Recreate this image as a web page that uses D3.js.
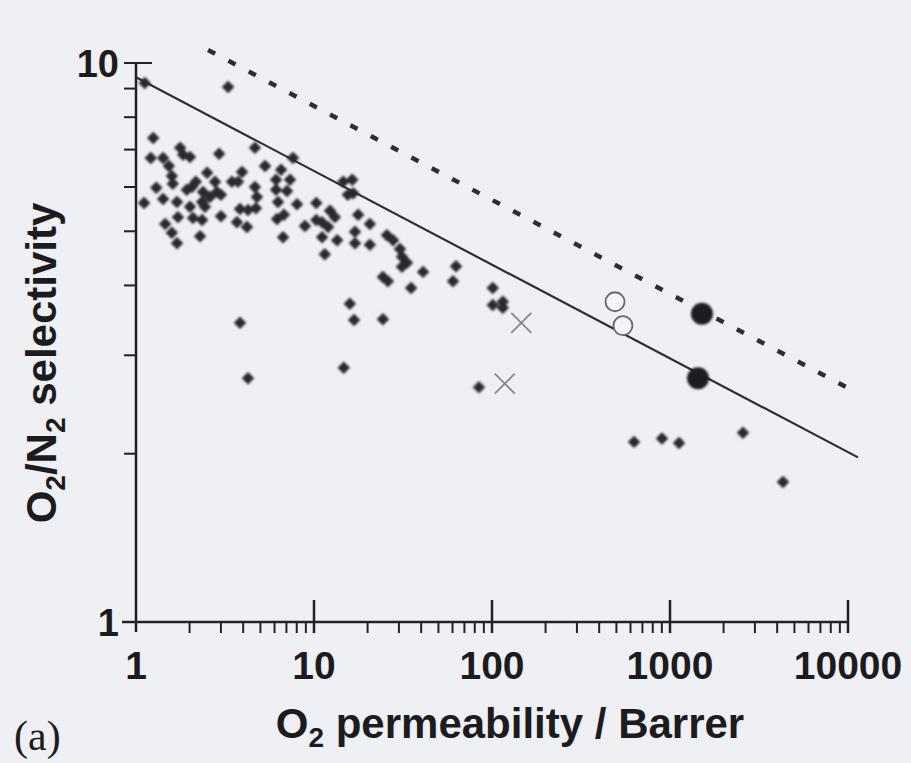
<!DOCTYPE html>
<html>
<head>
<meta charset="UTF-8" />
<title>O2/N2 selectivity vs permeability</title>
<script src="https://d3js.org/d3.v7.min.js"></script>
<style>
  body { margin: 0; background: #eff0f4; }
  svg { display: block; }
  .tick-label { font-family: "Liberation Sans", Arial, sans-serif; font-weight: bold; fill: #1c1c1e; }
  .title { font-family: "Liberation Sans", Arial, sans-serif; font-weight: bold; fill: #1c1c1e; }
</style>
</head>
<body>
<svg id="chart" width="911" height="763"></svg>
<script>
// polymer data (diamonds): O2 permeability (Barrer) and O2/N2 selectivity
const polyP = [1.12, 3.29, 1.25, 1.77, 1.84, 2.01, 2.93, 1.21, 1.42, 1.53, 1.59, 1.61, 2.51, 1.30, 1.93, 2.06, 2.17, 2.38, 2.60, 2.78,
  2.85, 3.00, 1.11, 1.42, 1.70, 2.01, 2.35, 2.44, 1.72, 2.09, 2.35, 3.00, 1.46, 1.59, 2.29, 1.70, 3.46, 3.74, 3.94, 4.66,
  5.31, 6.53, 7.62, 4.66, 4.78, 6.12, 7.33, 6.12, 7.05, 6.28, 8.03, 10.3, 3.84, 4.26, 4.72, 3.69, 4.20, 6.20, 6.78, 8.90,
  10.3, 6.70, 11.1, 14.6, 16.4, 15.5, 16.6, 12.3, 13.1, 11.1, 12.0, 17.7, 20.6, 17.0, 13.5, 17.0, 20.6, 25.7, 27.8, 30.4,
  31.2, 31.2, 33.3, 11.5, 24.4, 26.0, 41.0, 35.1, 62.8, 60.4, 101, 101, 115, 115, 3.84, 4.26, 15.9, 16.8, 24.4, 14.7,
  84.5, 628, 902, 1124, 2571, 4313];
const polySel = [9.21, 9.06, 7.34, 7.05, 6.85, 6.79, 6.88, 6.76, 6.76, 6.54, 6.28, 6.08, 6.36, 5.98, 5.93, 6.00, 6.13, 5.88, 5.76, 6.13,
  5.88, 5.81, 5.62, 5.71, 5.64, 5.53, 5.64, 5.53, 5.30, 5.28, 5.24, 5.32, 5.15, 4.97, 4.90, 4.76, 6.13, 6.13, 6.38, 7.05,
  6.54, 6.44, 6.76, 6.00, 5.76, 6.18, 6.18, 5.93, 5.90, 5.64, 5.59, 5.62, 5.48, 5.46, 5.50, 5.19, 5.09, 5.26, 5.35, 5.11,
  5.24, 4.88, 4.88, 6.13, 6.18, 5.81, 5.85, 5.44, 5.30, 5.19, 5.09, 5.35, 5.15, 4.99, 4.82, 4.76, 4.73, 4.92, 4.82, 4.65,
  4.50, 4.32, 4.39, 4.55, 4.14, 4.07, 4.23, 3.96, 4.33, 4.07, 3.96, 3.69, 3.74, 3.65, 3.43, 2.73, 3.71, 3.47, 3.48, 2.85,
  2.63, 2.10, 2.13, 2.09, 2.18, 1.78];

// other materials
const crossP = [146, 118];
const crossSel = [3.43, 2.67];
const openP = [491, 544];
const openSel = [3.74, 3.39];
const filledP = [1512, 1437];
const filledSel = [3.56, 2.73];

// upper bound lines (end points)
const bound1991P = [1, 11380];
const bound1991Sel = [9.43, 1.97];
const bound2008P = [2.54, 10520];
const bound2008Sel = [10.55, 2.60];

const xTickLabels = ["1", "10", "100", "1000", "10000"];
const yTickLabels = ["1", "10"];

const width = 911, height = 763;
const svg = d3.select("#chart");

svg.append("rect").attr("width", width).attr("height", height).attr("fill", "#eff0f4");

const defs = svg.append("defs");
defs.append("filter").attr("id", "soft")
  .append("feGaussianBlur").attr("stdDeviation", 0.8);

const x = d3.scaleLog().domain([1, 10000]).range([136, 848]);
const y = d3.scaleLog().domain([1, 10]).range([622, 63]);

const ink = "#222226";

// axes lines
svg.append("line").attr("x1", 122).attr("x2", x(10000)).attr("y1", y(1)).attr("y2", y(1))
  .attr("stroke", ink).attr("stroke-width", 2.5);
svg.append("line").attr("x1", x(1)).attr("x2", x(1)).attr("y1", y(10)).attr("y2", y(1) + 10)
  .attr("stroke", ink).attr("stroke-width", 2.5);

// x ticks
const xTicks = x.ticks().filter(d => d > 1);
svg.selectAll(".xtick").data(xTicks).enter().append("line")
  .attr("x1", d => x(d)).attr("x2", d => x(d))
  .attr("y1", d => Number.isInteger(Math.log10(d)) ? y(1) - 22 : y(1))
  .attr("y2", y(1) + 11)
  .attr("stroke", ink).attr("stroke-width", d => Number.isInteger(Math.log10(d)) ? 2.5 : 2);

// y ticks
const yTicks = y.ticks().filter(d => d > 1);
svg.selectAll(".ytick").data(yTicks).enter().append("line")
  .attr("y1", d => y(d)).attr("y2", d => y(d))
  .attr("x1", x(1) - 12)
  .attr("x2", d => d === 10 ? x(1) + 16 : x(1))
  .attr("stroke", ink).attr("stroke-width", 2);

// tick labels
svg.selectAll(".xl").data(xTickLabels).enter().append("text")
  .attr("class", "tick-label")
  .attr("x", d => x(+d)).attr("y", 679)
  .attr("text-anchor", "middle")
  .attr("font-size", 39)
  .text(d => d);

svg.selectAll(".yl").data(yTickLabels).enter().append("text")
  .attr("class", "tick-label")
  .attr("x", 119).attr("y", d => y(+d) + 14)
  .attr("text-anchor", "end")
  .attr("font-size", 38)
  .text(d => d);

// upper bound lines
const line = d3.line().x(d => x(d[0])).y(d => y(d[1]));
svg.append("path")
  .attr("d", line(d3.zip(bound1991P, bound1991Sel)))
  .attr("stroke", "#2e2e32").attr("stroke-width", 2.2).attr("fill", "none");
svg.append("path")
  .attr("d", line(d3.zip(bound2008P, bound2008Sel)))
  .attr("stroke", "#2e2e32").attr("stroke-width", 4.5).attr("fill", "none")
  .attr("stroke-dasharray", "8,15");

// diamonds
const diamond = d3.symbol().type(d3.symbolSquare).size(78);
svg.append("g").attr("filter", "url(#soft)")
  .selectAll("path").data(d3.zip(polyP, polySel)).enter().append("path")
  .attr("d", diamond)
  .attr("transform", d => `translate(${x(d[0])},${y(d[1])}) rotate(45)`)
  .attr("fill", "#2a2a2f");

// crosses
const cross = svg.append("g").selectAll("g").data(d3.zip(crossP, crossSel)).enter().append("g")
  .attr("transform", d => `translate(${x(d[0])},${y(d[1])})`);
cross.append("line").attr("x1", -10).attr("y1", -10).attr("x2", 10).attr("y2", 10)
  .attr("stroke", "#85858a").attr("stroke-width", 1.8);
cross.append("line").attr("x1", -10).attr("y1", 10).attr("x2", 10).attr("y2", -10)
  .attr("stroke", "#85858a").attr("stroke-width", 1.8);

// open circles
svg.append("g").selectAll("circle").data(d3.zip(openP, openSel)).enter().append("circle")
  .attr("cx", d => x(d[0])).attr("cy", d => y(d[1])).attr("r", 9.5)
  .attr("fill", "#f4f5f8").attr("stroke", "#66666b").attr("stroke-width", 1.8);

// filled circles
svg.append("g").attr("filter", "url(#soft)")
  .selectAll("circle").data(d3.zip(filledP, filledSel)).enter().append("circle")
  .attr("cx", d => x(d[0])).attr("cy", d => y(d[1])).attr("r", 11)
  .attr("fill", "#1e1e22");

// axis titles
const xt = svg.append("text").attr("class", "title")
  .attr("x", 510).attr("y", 738).attr("text-anchor", "middle").attr("font-size", 42);
xt.append("tspan").text("O");
xt.append("tspan").attr("font-size", 28).attr("dy", 9).text("2");
xt.append("tspan").attr("dy", -9).text(" permeability / Barrer");

const yt = svg.append("text").attr("class", "title")
  .attr("transform", "translate(56,363) rotate(-90)")
  .attr("text-anchor", "middle").attr("font-size", 42);
yt.append("tspan").text("O");
yt.append("tspan").attr("font-size", 28).attr("dy", 9).text("2");
yt.append("tspan").attr("dy", -9).text("/N");
yt.append("tspan").attr("font-size", 28).attr("dy", 9).text("2");
yt.append("tspan").attr("dy", -9).text(" selectivity");

svg.append("text")
  .attr("x", 14).attr("y", 750)
  .attr("font-family", "'Liberation Serif', 'Times New Roman', serif")
  .attr("font-size", 42).attr("fill", "#1c1c1e")
  .text("(a)");
</script>
</body>
</html>
